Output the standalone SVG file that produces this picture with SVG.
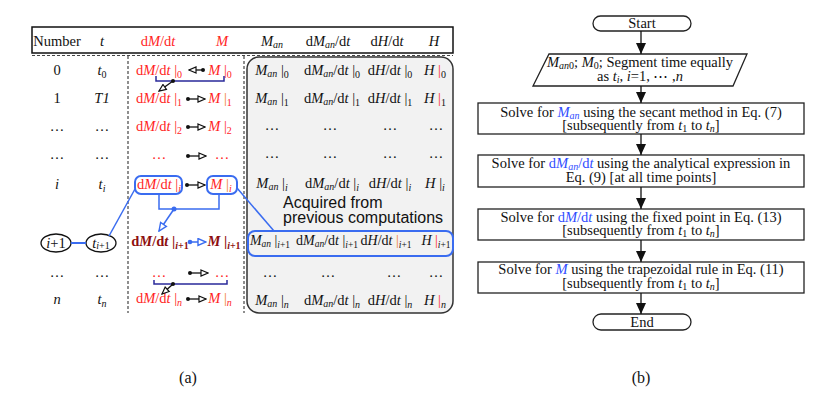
<svg xmlns="http://www.w3.org/2000/svg" width="838" height="399" viewBox="0 0 838 399">
<style>
.s{font-family:"Liberation Serif","Times New Roman",serif;font-size:14.5px;fill:#111}
.i{font-style:italic}
.r{fill:#ff2424}
.dr{fill:#8e0f0f;font-weight:bold}
.o{fill:#f07a18}
.b{fill:#2f4cff}
.sub{font-size:10px}
.sm{font-size:14px}
.sm .sub{font-size:9.5px}
.sa{font-family:"Liberation Sans",Arial,sans-serif;font-size:16px;fill:#111}
.blue{stroke:#3a6cf0;stroke-width:2;fill:none}
.blk{stroke:#111;stroke-width:1.3;fill:none}
.nav{stroke:#2a2a9a;stroke-width:1.5;fill:none}
.box{fill:#fff;stroke:#222;stroke-width:1.3}
.dash{stroke:#444;stroke-width:1.2;stroke-dasharray:3 2;fill:none}
</style>
<defs>
<marker id="oh" markerWidth="9" markerHeight="8" refX="8" refY="4" orient="auto" markerUnits="userSpaceOnUse">
<path d="M1,1 L8,4 L1,7 Z" fill="#fff" stroke="#111" stroke-width="1.2"/>
</marker>
<marker id="ohb" markerWidth="10" markerHeight="9" refX="9" refY="4.5" orient="auto" markerUnits="userSpaceOnUse">
<path d="M1,1 L9,4.5 L1,8 Z" fill="#fff" stroke="#3a6cf0" stroke-width="1.4"/>
</marker>
<marker id="fh" markerWidth="12" markerHeight="10" refX="11" refY="5" orient="auto" markerUnits="userSpaceOnUse">
<path d="M0,0 L11,5 L0,10 Z" fill="#111"/>
</marker>
</defs>
<rect width="838" height="399" fill="#fff"/>

<!-- (a) table -->
<g id="table-frame">
<rect x="247" y="57" width="206" height="256" rx="12" fill="#f2f2f2" stroke="#333" stroke-width="1.5"/>
<rect x="32" y="27" width="421" height="26" fill="#fff" stroke="#111" stroke-width="1.5"/>
<line x1="32" y1="55.5" x2="453" y2="55.5" class="dash"/>
<line x1="128" y1="56" x2="128" y2="313" class="dash"/>
<line x1="244" y1="56" x2="244" y2="313" class="dash"/>
</g>

<g id="header">
<text x="57" y="46" class="s" text-anchor="middle">Number</text>
<text x="102" y="46" class="s i" text-anchor="middle">t</text>
<text x="158" y="46" class="s r" text-anchor="middle">d<tspan class="i">M</tspan>/d<tspan class="i">t</tspan></text>
<text x="222" y="46" class="s r i" text-anchor="middle">M</text>
<text x="272" y="46" class="s" text-anchor="middle"><tspan class="i">M</tspan><tspan class="i sub" dy="2">an</tspan></text>
<text x="328" y="46" class="s" text-anchor="middle">d<tspan class="i">M</tspan><tspan class="i sub" dy="2">an</tspan><tspan dy="-2">/d</tspan><tspan class="i">t</tspan></text>
<text x="387" y="46" class="s" text-anchor="middle">d<tspan class="i">H</tspan>/d<tspan class="i">t</tspan></text>
<text x="434" y="46" class="s i" text-anchor="middle">H</text>
</g>

<g id="col-number">
<text x="57" y="75" class="s" text-anchor="middle">0</text>
<text x="57" y="103" class="s" text-anchor="middle">1</text>
<text x="57" y="131" class="s" text-anchor="middle">…</text>
<text x="57" y="159" class="s" text-anchor="middle">…</text>
<text x="57" y="189" class="s i" text-anchor="middle">i</text>
<text x="57" y="277" class="s" text-anchor="middle">…</text>
<text x="57" y="304" class="s i" text-anchor="middle">n</text>
</g>
<g id="col-t">
<text x="102" y="75" class="s" text-anchor="middle"><tspan class="i">t</tspan><tspan class="sub" dy="3">0</tspan></text>
<text x="102" y="103" class="s i" text-anchor="middle">T1</text>
<text x="102" y="131" class="s" text-anchor="middle">…</text>
<text x="102" y="159" class="s" text-anchor="middle">…</text>
<text x="102" y="189" class="s" text-anchor="middle"><tspan class="i">t</tspan><tspan class="i sub" dy="3">i</tspan></text>
<text x="102" y="277" class="s" text-anchor="middle">…</text>
<text x="102" y="304" class="s" text-anchor="middle"><tspan class="i">t</tspan><tspan class="i sub" dy="3">n</tspan></text>
</g>

<g id="node-i1">
<ellipse cx="56" cy="243" rx="15" ry="9" class="blk"/>
<text x="56" y="248" class="s" text-anchor="middle"><tspan class="i">i</tspan>+1</text>
</g>
<g id="node-ti1">
<ellipse cx="101" cy="243" rx="15" ry="9" class="blk"/>
<text x="101" y="248" class="s" text-anchor="middle"><tspan class="i">t</tspan><tspan class="sub" dy="1"><tspan class="i">i</tspan>+1</tspan></text>
</g>

<g id="col-dMdt">
<text x="159" y="75" class="s r" text-anchor="middle">d<tspan class="i">M</tspan>/d<tspan class="i">t</tspan> |<tspan class="sub" dy="3">0</tspan></text>
<text x="159" y="103" class="s r" text-anchor="middle">d<tspan class="i">M</tspan>/d<tspan class="i">t</tspan> |<tspan class="sub" dy="3">1</tspan></text>
<text x="159" y="131" class="s r" text-anchor="middle">d<tspan class="i">M</tspan>/d<tspan class="i">t</tspan> |<tspan class="sub" dy="3">2</tspan></text>
<text x="159" y="159" class="s r" text-anchor="middle">…</text>
<text x="159" y="189" class="s r" text-anchor="middle">d<tspan class="i">M</tspan>/d<tspan class="i">t</tspan> |<tspan class="sub i" dy="3">i</tspan></text>
<text x="160" y="246" class="s dr" text-anchor="middle">d<tspan class="i">M</tspan>/d<tspan class="i">t</tspan> |<tspan class="sub" dy="3"><tspan class="i">i</tspan>+1</tspan></text>
<text x="159" y="277" class="s r" text-anchor="middle">…</text>
<text x="159" y="303" class="s r" text-anchor="middle">d<tspan class="i">M</tspan>/d<tspan class="i">t</tspan> |<tspan class="sub i" dy="3">n</tspan></text>
</g>
<g id="col-M">
<text x="220" y="75" class="s r" text-anchor="middle"><tspan class="i">M</tspan> |<tspan class="sub" dy="3">0</tspan></text>
<text x="220" y="103" class="s r" text-anchor="middle"><tspan class="i">M</tspan> <tspan class="o">|</tspan><tspan class="sub" dy="3">1</tspan></text>
<text x="220" y="131" class="s r" text-anchor="middle"><tspan class="i">M</tspan> |<tspan class="sub" dy="3">2</tspan></text>
<text x="222" y="159" class="s r" text-anchor="middle">…</text>
<text x="221" y="189" class="s r" text-anchor="middle"><tspan class="i">M</tspan> <tspan class="o">|</tspan><tspan class="sub i" dy="3">i</tspan></text>
<text x="224" y="246" class="s dr" text-anchor="middle"><tspan class="i">M</tspan> |<tspan class="sub" dy="3"><tspan class="i">i</tspan>+1</tspan></text>
<text x="222" y="277" class="s r" text-anchor="middle">…</text>
<text x="220" y="303" class="s r" text-anchor="middle"><tspan class="i">M</tspan> <tspan class="o">|</tspan><tspan class="sub i" dy="3">n</tspan></text>
</g>

<g id="gray-values">
<text x="272" y="75" class="s" text-anchor="middle"><tspan class="i">M</tspan><tspan class="i sub" dy="2">an</tspan><tspan dy="-2"> |</tspan><tspan class="sub" dy="3">0</tspan></text>
<text x="332" y="75" class="s" text-anchor="middle">d<tspan class="i">M</tspan><tspan class="i sub" dy="2">an</tspan><tspan dy="-2">/d</tspan><tspan class="i">t</tspan> |<tspan class="sub" dy="3">0</tspan></text>
<text x="390" y="75" class="s" text-anchor="middle">d<tspan class="i">H</tspan>/d<tspan class="i">t</tspan> |<tspan class="sub" dy="3">0</tspan></text>
<text x="435" y="75" class="s" text-anchor="middle"><tspan class="i">H</tspan> <tspan class="r">|</tspan><tspan class="sub" dy="3">0</tspan></text>

<text x="272" y="103" class="s" text-anchor="middle"><tspan class="i">M</tspan><tspan class="i sub" dy="2">an</tspan><tspan dy="-2"> |</tspan><tspan class="sub" dy="3">1</tspan></text>
<text x="332" y="103" class="s" text-anchor="middle">d<tspan class="i">M</tspan><tspan class="i sub" dy="2">an</tspan><tspan dy="-2">/d</tspan><tspan class="i">t</tspan> |<tspan class="sub" dy="3">1</tspan></text>
<text x="390" y="103" class="s" text-anchor="middle">d<tspan class="i">H</tspan>/d<tspan class="i">t</tspan> |<tspan class="sub" dy="3">1</tspan></text>
<text x="435" y="103" class="s" text-anchor="middle"><tspan class="i">H</tspan> <tspan class="r">|</tspan><tspan class="sub" dy="3">1</tspan></text>

<text x="272" y="130" class="s" text-anchor="middle">…</text>
<text x="330" y="130" class="s" text-anchor="middle">…</text>
<text x="390" y="130" class="s" text-anchor="middle">…</text>
<text x="436" y="130" class="s" text-anchor="middle">…</text>
<text x="272" y="158" class="s" text-anchor="middle">…</text>
<text x="330" y="158" class="s" text-anchor="middle">…</text>
<text x="390" y="158" class="s" text-anchor="middle">…</text>
<text x="436" y="158" class="s" text-anchor="middle">…</text>

<text x="272" y="188" class="s" text-anchor="middle"><tspan class="i">M</tspan><tspan class="i sub" dy="2">an</tspan><tspan dy="-2"> |</tspan><tspan class="i sub" dy="3">i</tspan></text>
<text x="332" y="188" class="s" text-anchor="middle">d<tspan class="i">M</tspan><tspan class="i sub" dy="2">an</tspan><tspan dy="-2">/d</tspan><tspan class="i">t</tspan> |<tspan class="i sub" dy="3">i</tspan></text>
<text x="390" y="188" class="s" text-anchor="middle">d<tspan class="i">H</tspan>/d<tspan class="i">t</tspan> |<tspan class="i sub" dy="3">i</tspan></text>
<text x="435" y="188" class="s" text-anchor="middle"><tspan class="i">H</tspan> |<tspan class="i sub" dy="3">i</tspan></text>

<text x="283" y="208" class="sa">Acquired from</text>
<text x="283" y="223" class="sa">previous computations</text>

<text x="270" y="277" class="s" text-anchor="middle">…</text>
<text x="328" y="277" class="s" text-anchor="middle">…</text>
<text x="394" y="277" class="s" text-anchor="middle">…</text>
<text x="436" y="277" class="s" text-anchor="middle">…</text>

<text x="272" y="305" class="s" text-anchor="middle"><tspan class="i">M</tspan><tspan class="i sub" dy="2">an</tspan><tspan dy="-2"> |</tspan><tspan class="i sub" dy="3">n</tspan></text>
<text x="332" y="305" class="s" text-anchor="middle">d<tspan class="i">M</tspan><tspan class="i sub" dy="2">an</tspan><tspan dy="-2">/d</tspan><tspan class="i">t</tspan> |<tspan class="i sub" dy="3">n</tspan></text>
<text x="390" y="305" class="s" text-anchor="middle">d<tspan class="i">H</tspan>/d<tspan class="i">t</tspan> |<tspan class="i sub" dy="3">n</tspan></text>
<text x="435" y="305" class="s" text-anchor="middle"><tspan class="i">H</tspan> <tspan class="r">|</tspan><tspan class="i sub" dy="3">n</tspan></text>
</g>

<g id="row-i1-box">
<rect x="248" y="231" width="205" height="25" rx="7" class="blue"/>
<text x="270" y="245" class="s sm" text-anchor="middle"><tspan class="i">M</tspan><tspan class="i sub" dy="2">an</tspan><tspan dy="-2"> |</tspan><tspan class="sub" dy="3"><tspan class="i">i</tspan>+1</tspan></text>
<text x="327" y="245" class="s sm" text-anchor="middle">d<tspan class="i">M</tspan><tspan class="i sub" dy="2">an</tspan><tspan dy="-2">/d</tspan><tspan class="i">t</tspan> |<tspan class="sub" dy="3"><tspan class="i">i</tspan>+1</tspan></text>
<text x="386" y="245" class="s sm" text-anchor="middle">d<tspan class="i">H</tspan>/d<tspan class="i">t</tspan> <tspan class="o">|</tspan><tspan class="sub" dy="3"><tspan class="i">i</tspan>+1</tspan></text>
<text x="436" y="245" class="s sm" text-anchor="middle"><tspan class="i">H</tspan> <tspan class="r">|</tspan><tspan class="sub" dy="3"><tspan class="i">i</tspan>+1</tspan></text>
</g>

<g id="row-i-boxes">
<rect x="135" y="176" width="47" height="18" rx="6" class="blue"/>
<rect x="207" y="176" width="30" height="18" rx="6" class="blue"/>
</g>

<g id="connectors-a">
<line x1="203" y1="70" x2="189" y2="70" class="blk" marker-end="url(#oh)"/>
<circle cx="203" cy="70" r="2" fill="#111"/>
<line x1="188" y1="99" x2="205" y2="99" class="blk" marker-end="url(#oh)"/>
<circle cx="188" cy="99" r="2" fill="#111"/>
<line x1="188" y1="127" x2="205" y2="127" class="blk" marker-end="url(#oh)"/>
<circle cx="188" cy="127" r="2" fill="#111"/>
<line x1="188" y1="156" x2="206" y2="156" class="blk" marker-end="url(#oh)"/>
<circle cx="188" cy="156" r="2" fill="#111"/>
<line x1="187" y1="185" x2="205" y2="185" class="blk" marker-end="url(#oh)"/>
<circle cx="187" cy="185" r="2" fill="#111"/>
<line x1="190" y1="242" x2="206" y2="242" stroke="#3a6cf0" stroke-width="1.5" marker-end="url(#ohb)"/>
<circle cx="190" cy="242" r="2.3" fill="#3a6cf0"/>
<line x1="190" y1="273" x2="208" y2="273" class="blk" marker-end="url(#oh)"/>
<circle cx="190" cy="273" r="2" fill="#111"/>
<line x1="188" y1="299" x2="206" y2="299" class="blk" marker-end="url(#oh)"/>
<circle cx="188" cy="299" r="2" fill="#111"/>
<polyline points="156,76 156,81 224,81 224,76" class="nav"/>
<circle cx="173" cy="81" r="2" fill="#111"/>
<line x1="173" y1="81" x2="159" y2="91" class="blk" marker-end="url(#oh)"/>
<polyline points="154,280 154,284 227,284 227,280" class="nav"/>
<circle cx="173" cy="284" r="2" fill="#111"/>
<line x1="173" y1="284" x2="162" y2="294" class="blk" marker-end="url(#oh)"/>
<polyline points="159,194 159,209 219,209 219,194" stroke="#3a6cf0" stroke-width="1.5" fill="none"/>
<circle cx="174" cy="209" r="2.5" fill="#3a6cf0"/>
<line x1="174" y1="209" x2="159" y2="231" stroke="#3a6cf0" stroke-width="1.5" marker-end="url(#ohb)"/>
<line x1="135" y1="189" x2="109" y2="236" stroke="#3a6cf0" stroke-width="1.5"/>
<line x1="71" y1="243" x2="86" y2="243" stroke="#3a6cf0" stroke-width="2"/>
<line x1="237" y1="188" x2="274" y2="231" stroke="#3a6cf0" stroke-width="1.5"/>
</g>

<!-- (b) flowchart -->
<g id="fc-start">
<rect x="593" y="16" width="98" height="15" rx="7.5" class="box"/>
<text x="642" y="28" class="s" text-anchor="middle">Start</text>
</g>
<g id="fc-input">
<polygon points="549,54 747,54 733,86 533,86" class="box"/>
<text x="640" y="67" class="s" text-anchor="middle"><tspan class="i">M</tspan><tspan class="i sub" dy="2">an</tspan><tspan class="sub" dy="0">0</tspan><tspan dy="-2">; </tspan><tspan class="i">M</tspan><tspan class="sub" dy="2">0</tspan><tspan dy="-2">; Segment time equally</tspan></text>
<text x="640" y="81" class="s" text-anchor="middle">as <tspan class="i">t</tspan><tspan class="i sub" dy="2">i</tspan><tspan dy="-2">, </tspan><tspan class="i">i</tspan>=1, ⋯ ,<tspan class="i">n</tspan></text>
</g>
<g id="fc-step1">
<rect x="478" y="103" width="326" height="31" class="box"/>
<text x="641" y="117" class="s" text-anchor="middle">Solve for <tspan class="i b">M</tspan><tspan class="i sub b" dy="2">an</tspan><tspan dy="-2"> using the secant method in Eq. (7)</tspan></text>
<text x="641" y="130" class="s" text-anchor="middle">[subsequently from <tspan class="i">t</tspan><tspan class="sub" dy="2">1</tspan><tspan dy="-2"> to </tspan><tspan class="i">t</tspan><tspan class="i sub" dy="2">n</tspan><tspan dy="-2">]</tspan></text>
</g>
<g id="fc-step2">
<rect x="478" y="155" width="326" height="32" class="box"/>
<text x="641" y="168" class="s" text-anchor="middle">Solve for <tspan class="b">d</tspan><tspan class="i b">M</tspan><tspan class="i sub b" dy="2">an</tspan><tspan class="b" dy="-2">/d</tspan><tspan class="i b">t</tspan> using the analytical expression in</text>
<text x="641" y="182" class="s" text-anchor="middle">Eq. (9)  [at all time points]</text>
</g>
<g id="fc-step3">
<rect x="478" y="209" width="326" height="31" class="box"/>
<text x="641" y="222" class="s" text-anchor="middle">Solve for <tspan class="b">d</tspan><tspan class="i b">M</tspan><tspan class="b">/d</tspan><tspan class="i b">t</tspan> using the fixed point in Eq. (13)</text>
<text x="641" y="235" class="s" text-anchor="middle">[subsequently from <tspan class="i">t</tspan><tspan class="sub" dy="2">1</tspan><tspan dy="-2"> to </tspan><tspan class="i">t</tspan><tspan class="i sub" dy="2">n</tspan><tspan dy="-2">]</tspan></text>
</g>
<g id="fc-step4">
<rect x="478" y="262" width="326" height="31" class="box"/>
<text x="641" y="274" class="s" text-anchor="middle">Solve for <tspan class="i b">M</tspan> using the trapezoidal rule in Eq. (11)</text>
<text x="641" y="288" class="s" text-anchor="middle">[subsequently from <tspan class="i">t</tspan><tspan class="sub" dy="2">1</tspan><tspan dy="-2"> to </tspan><tspan class="i">t</tspan><tspan class="i sub" dy="2">n</tspan><tspan dy="-2">]</tspan></text>
</g>
<g id="fc-end">
<rect x="593" y="314" width="98" height="16" rx="8" class="box"/>
<text x="642" y="327" class="s" text-anchor="middle">End</text>
</g>
<g id="connectors-b" stroke="#111" stroke-width="1.3">
<line x1="641" y1="31" x2="641" y2="54" marker-end="url(#fh)"/>
<line x1="641" y1="86" x2="641" y2="103" marker-end="url(#fh)"/>
<line x1="641" y1="134" x2="641" y2="155" marker-end="url(#fh)"/>
<line x1="641" y1="187" x2="641" y2="209" marker-end="url(#fh)"/>
<line x1="641" y1="240" x2="641" y2="262" marker-end="url(#fh)"/>
<line x1="641" y1="293" x2="641" y2="314" marker-end="url(#fh)"/>
</g>

<text x="188" y="383" class="s" style="font-size:16px" text-anchor="middle">(a)</text>
<text x="641" y="383" class="s" style="font-size:16px" text-anchor="middle">(b)</text>
</svg>
